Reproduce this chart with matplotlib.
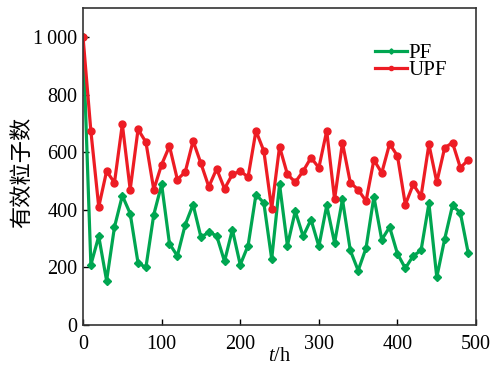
import numpy as np
import matplotlib
matplotlib.use("Agg")
import matplotlib.pyplot as plt

plt.rcParams['font.family'] = ['Liberation Serif', 'Noto Sans CJK SC']
plt.rcParams['mathtext.fontset'] = 'custom'
plt.rcParams['mathtext.rm'] = 'Liberation Serif'
plt.rcParams['mathtext.it'] = 'Liberation Serif:italic'

t = np.arange(0, 500, 10)
pf = [1000, 209, 308, 154, 340, 449, 387, 215, 200, 383,
      488, 282, 240, 348, 418, 305, 322, 310, 221, 331,
      209, 276, 453, 424, 229, 488, 276, 395, 308, 366,
      273, 415, 285, 436, 259, 189, 267, 445, 296, 340,
      247, 197, 240, 259, 422, 166, 298, 415, 389, 250]
upf = [1000, 673, 410, 534, 494, 697, 470, 679, 635, 470,
       557, 621, 505, 531, 639, 561, 480, 542, 473, 523,
       534, 514, 674, 604, 403, 619, 523, 496, 534, 581,
       546, 674, 436, 633, 494, 470, 430, 573, 528, 629,
       587, 418, 488, 447, 627, 496, 615, 633, 546, 573]
yticks = [0, 200, 400, 600, 800, 1000]
ylabels = ['0', '200', '400', '600', '800', '1\u2009000']

fig = plt.figure(figsize=(4.98, 3.70), dpi=100)
ax = fig.add_axes([0.1667, 0.1216, 0.7893, 0.8564])

ax.plot(t, pf, color='#00a651', lw=2.3, marker='D', ms=4.5, label='PF')
ax.plot(t, upf, color='#ed1c24', lw=2.3, marker='o', ms=5, label='UPF')

ax.set_xlim(0, 500)
ax.set_ylim(0, 1100)
ax.set_xticks([0, 100, 200, 300, 400, 500])
ax.set_yticks(yticks)
ax.set_yticklabels(ylabels)
ax.tick_params(direction='in', labelsize=14.5, length=4, width=1)
ax.tick_params(axis='x', pad=7)
ax.tick_params(axis='y', pad=4)
for s in ax.spines.values():
    s.set_linewidth(1.2)
    s.set_color('#333333')

ax.set_xlabel('$t$/h', fontsize=14.5, labelpad=-5)
ax.set_ylabel('有效粒子数', fontsize=16, family=['Noto Sans CJK SC'])
ax.yaxis.set_label_coords(-0.127, 0.483)

ax.legend(loc='upper left', bbox_to_anchor=(0.722, 0.915), borderaxespad=0,
          frameon=False, fontsize=15, handlelength=1.55, handletextpad=0.05,
          labelspacing=-0.1, markerscale=0.6)

fig.savefig('out.png', dpi=100)
